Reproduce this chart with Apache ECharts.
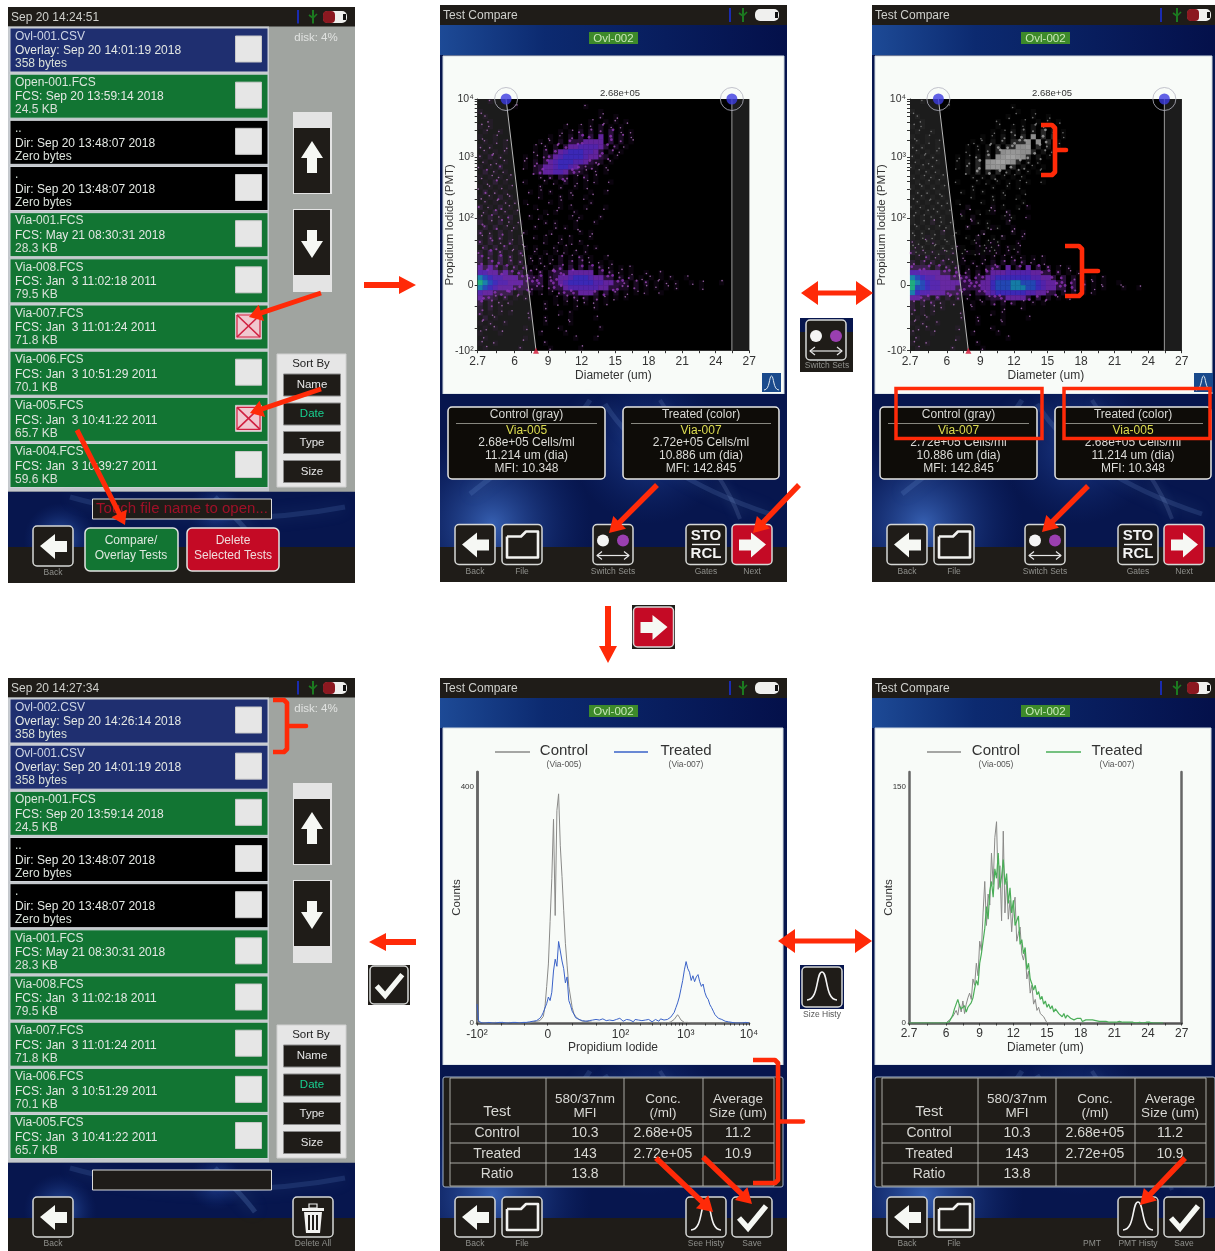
<!DOCTYPE html>
<html><head><meta charset="utf-8">
<style>html,body{margin:0;padding:0;background:#fff}#c{width:1215px;height:1251px;filter:blur(.45px)}</style>
<script src="https://cdn.jsdelivr.net/npm/echarts@6/dist/echarts.min.js"></script></head>
<body><div id="c"></div>
<script>
// ---------- DATA ----------
const sizeTickLabels=[2.7,6,9,12,15,18,21,24,27];
const sizeMinorTicks=[2.7,4.35,6,7.5,9,10.5,12,13.5,15,16.5,18,19.5,21,22.5,24,25.5,27];
const piTickPositions=[0,1.04,2.11,3.07,4];
const piTickLabels=['-10²','0','10²','10³','10⁴'];
const piMinorTicks=[0,.35,.7,1.04,1.4,1.75,2.11,2.4,2.57,2.69,2.78,2.86,2.92,2.98,3.02,3.07,3.35,3.51,3.63,3.72,3.79,3.85,3.91,3.96,4];
const leftGate=[[2.7,4],[5.24,4],[7.92,0],[2.7,0]];
const rightGate=[[25.45,4],[27,4],[27,0],[25.45,0]];
const gateHandles=[[5.24,4],[25.45,4]];
const gateMarker=[[7.92,0]];
// density per cell, top row first; 54 columns over 2.7-27, 50 rows over the PI scale
const overlayColor=[
"..1",".......1.............1","1.......................1",".1......................1..1",
"..1...................1..1.1.1","1.1..............1..1.1.2.1.1",".1..1...........1.1.2.2.2.3.1.1",
"1..1..........1.1.2.3.3.4.3.2.1",".1.1.1......1.1.2.3334444.3.2.1","1.1..1.....1.1.2.344555543.2.1",
".1.1.1.....1.2.3456665543.2.1","1.2.1....1.1.2345666654432.1",".1.1.1...1.2.345666554322.1",
"1.1.2....1.2344566543221.1",".2.1.1.....23445543321.1.1","1.1.1.1.....1.2.32.1.2.1",
".1.2.1...1...1.1.2.1.1.1..1","1.1.1.1.....1...1..1.1",".2.1.1....1.1.1...1...1..1",
"1.1.2.1.....1...1.1..1",".1.1.1.1.1....1.1.....1","2.1.2.1....1....1.1..1...1",
".1.2.1.1.....1.1...1","1.2.1.2...1.1.....1.1...1","2.1.2.1.1....1.1...1...1",
".2.2.1.1...1...1.1.1","2.1.2.1..1....1.....1.1","1.2.2.1.1..1.1..1.1...1",
"2.2.1.2.1....1..1.1.1",".2.2.2.1.1.1...1.1...1.1","2.3.2.1.2..1.1.1.1.1.1",
"3.2.3.2.1.1.1.1.2.1.2.1..1","3.3.3.2.2.1.1.1.2.2.2.1.1.1","4343.3.2.2.1.1.23.3.3.3.2.1.1.1",
"5544343.3.2.2.233344444.3.2.1.1..1..1","8765544433323.2344566654433.2.2.1.1.1.1..1",
"9876554443333.3345666665544332.2.2.1.1.1..1.1...1","8765444333222.2334555555443322.2.1.1.1.1....1",
"5443333.2.2.1.1.23334443.3.2.1.1.1..1","4332.2.1.1.....1.2.2.2.2.1.1.1","3.2.1.1......1.1.1.1.1.1.1",
"2.2.1........1.....1...1","2.1.1.1...1.....1.1",".2.1......1..1....1....1","1.1..1.......1....1",
".1.1.....1......1.......1","1...1.......1....1",".1.......1.........1...1","1..1.........1",".1......1.....1.....1"];
const swappedGray=[
"..1",".......1............1","1....................1..1",".1.................1....1..1",
"..1..............1....1..1.1.1","1.1..............1..1.1.2.1.1",".1..1...........1.1.2.2.2.3.2.1",
"1..1..........1.1.2.2.3.4.3.3.1",".1.1.1......1.1.2.2.3334.4.3.1","1.1..1.....1.1.2.3.33445.3.2.1",
".1.1.1.....1.1.2.34555443.2.1","1.1.1....1.1.2.3.4566543.2.1",".1.1.1...1.2.3.4566543.2.1",
"1.1.1....1.2.3.4554.3.2.1.1",".1.1.1.....2.3.3.3.2.2.1.1","1.1.1.1.....1.1.2.1.1.1",
".1.1.1...1...1.1.1.1.1.1..1","1.1.1.1.....1...1..1.1",".1.1.1....1.1.1...1...1",
"1.1.1.1.....1...1.1..1",".1.1.1.1.1....1.1.....1","1.1.1.1....1....1.1..1",
".1.1.1.1.....1.1...1","1.1.1.1...1.1.....1.1","1.1.1.1.1....1.1...1",".1.1.1.1...1...1.1",
"1.1.1.1..1....1.....1","1.1.1.1.1..1.1..1.1",".1.1.1.1....1..1.1","1.1.1.1.1.1...1.1...1",".1.1.1.1..1.1.1.1"];
const swappedColor=["","","","","","","","","","","","","","","","","","","","","","...........1....1......1","..........1.....1..1","............1......1...1","....1.......1......1","...........1....1...1","......1.......1.....1.1","...1.........1....1...1","1...1........1..1....1",".1.......1...1.1.1.1.1",
"2.1.1.1.1..1.1.1.1.1.1",".1.2.1.1..1...1.1.1.1.1.1.1","2.2.2.2.1.1.1.1.2.2.2.2.1.1","3333.3.2.2.1.1.233.4.3.4.3.2.1.1",
"55444433.3.2.2.3444555554433.2.1.1","876554443333.3345666666655443.3.2.1.1.1","9876554444333344677788777654433.3.2.1.1..1",
"9776554443333344677788877654433.3.2.1.1...1..1","865544433322.3345666666554433.2.2.1.1","4433.3.2.2.1.1.233344443.3.2.1.1",
"2.2.2.1.1...1.1.2.2.2.1.1.1","2.1.1.1.....1.....1...1","1.1.1.....1.....1.1",".1.1......1..1....1....1","1.1..1.......1....1",".1.1.....1......1",
"1...1.......1....1",".1.......1.........1","1..1.........1",".1......1.....1"];
const piBins=161;
const piControl=[5,0,0,1,0,0,1,0,0,0, 0,1,0,0,0,1,0,0,0,1, 0,0,1,0,0,0,1,0,1,0, 1,0,1,2,1,3,2,4,6,11,
28,62,100,172,245,345,182,360,388,300, 248,190,135,98,62,44,26,16,11,8, 6,4,3,2,3,1,2,1,1,0, 1,0,1,0,0,1,0,0,1,0,
0,1,0,0,0,1,0,0,0,0, 1,0,0,0,1,0,0,0,0,1, 0,0,1,0,0,0,0,1,0,0, 0,1,0,1,2,4,6,9,14,10, 5,2,1,0,1,0,0,0,0,0,
0,0,0,0,0,0,0,0,0,0, 0,0,0,0,0,0,0,0,0,0, 0,0,0,0,0,0,0,0,0,0, 0];
const piTreated=[32,3,1,0,1,0,0,1,0,0, 1,0,0,1,0,1,0,0,1,0, 0,1,0,1,0,0,1,1,0,1, 1,2,1,3,2,4,5,8,12,18,
16,33,44,38,52,88,108,96,138,122, 105,92,68,78,38,30,20,15,9,8, 6,7,4,5,3,6,4,7,5,3, 6,4,5,3,7,5,4,2,5,6,
4,3,6,4,8,5,3,4,6,3, 5,4,2,6,3,5,7,4,3,5, 4,6,3,2,5,6,4,3,7,4, 5,3,6,8,10,12,18,26,34,44,
58,72,90,104,92,86,72,80,70,78, 82,70,62,66,52,44,40,31,26,20, 14,12,8,6,6,4,3,2,2,1, 1,1,0,1,0,1,0,0,1,0, 0];
const sizeControl=[0,0,0,0,0,0,0,0,0,0, 0,0,0,0,0,0,0,0,0,0, 0,0,0,1,2,1,4,3,8,5,
12,7,14,6,12,16,19,15,28,24, 38,30,52,46,70,90,62,82,75,108, 88,118,128,85,100,65,122,70,90,66,
78,58,74,80,52,57,61,44,40,46, 28,33,19,24,12,15,8,10,6,7, 4,2,0,1,0,0,0,0,0,0,
0,0,0,0,0,0,0,0,0,0, 0,0,0,0,0,0,0,0,0,0, 0,0,0,0,0,0,0,0,0,0, 0,0,0,0,0,0,0,0,0,0, 0,0,0,0,0,0,0,0,0,0, 0,0];
const sizeTreated=[0,0,0,0,0,0,0,0,0,0, 0,0,0,0,0,0,0,0,0,0, 0,0,0,0,1,2,5,9,12,15,
11,9,8,11,7,10,10,13,16,22, 27,24,38,44,52,60,74,66,84,90, 80,98,92,108,86,93,104,88,95,76,
86,70,78,62,61,68,50,53,44,48, 34,38,28,25,21,24,18,20,15,17, 12,14,10,12,9,11,7,9,8,6,
7,4,6,3,5,4,3,4,2,3, 3,2,3,1,2,2,1.5,2,1,2, 1,1.5,1,1,1.5,1,.5,1,1,.5, 1,.5,1,.5,.5,1,.5,.5,1,.5, .5,.5,1,.5,.5,0,.5,.5,.5,0, .5,.5,0,.5,0,0,.5,0,0,0, 0,0];
const screen1Files=[
['Ovl-001.CSV','Overlay: Sep 20 14:01:19 2018','358 bytes','o',0],['Open-001.FCS','FCS: Sep 20 13:59:14 2018','24.5 KB','f',0],
['..','Dir: Sep 20 13:48:07 2018','Zero bytes','d',0],['.','Dir: Sep 20 13:48:07 2018','Zero bytes','d',0],
['Via-001.FCS','FCS: May 21 08:30:31 2018','28.3 KB','f',0],['Via-008.FCS','FCS: Jan  3 11:02:18 2011','79.5 KB','f',0],
['Via-007.FCS','FCS: Jan  3 11:01:24 2011','71.8 KB','f',1],['Via-006.FCS','FCS: Jan  3 10:51:29 2011','70.1 KB','f',0],
['Via-005.FCS','FCS: Jan  3 10:41:22 2011','65.7 KB','f',1],['Via-004.FCS','FCS: Jan  3 10:39:27 2011','59.6 KB','f',0]];
const screen4Files=[
['Ovl-002.CSV','Overlay: Sep 20 14:26:14 2018','358 bytes','o',0],['Ovl-001.CSV','Overlay: Sep 20 14:01:19 2018','358 bytes','o',0],
['Open-001.FCS','FCS: Sep 20 13:59:14 2018','24.5 KB','f',0],['..','Dir: Sep 20 13:48:07 2018','Zero bytes','d',0],
['.','Dir: Sep 20 13:48:07 2018','Zero bytes','d',0],['Via-001.FCS','FCS: May 21 08:30:31 2018','28.3 KB','f',0],
['Via-008.FCS','FCS: Jan  3 11:02:18 2011','79.5 KB','f',0],['Via-007.FCS','FCS: Jan  3 11:01:24 2011','71.8 KB','f',0],
['Via-006.FCS','FCS: Jan  3 10:51:29 2011','70.1 KB','f',0],['Via-005.FCS','FCS: Jan  3 10:41:22 2011','65.7 KB','f',0]];
const infoA=['Via-005','2.68e+05 Cells/ml','11.214 um (dia)','MFI: 10.348'];
const infoB=['Via-007','2.72e+05 Cells/ml','10.886 um (dia)','MFI: 142.845'];
const tableHeader=[['Test'],['580/37nm','MFI'],['Conc.','(/ml)'],['Average','Size (um)']];
const tableRows=[['Control','10.3','2.68e+05','11.2'],['Treated','143','2.72e+05','10.9'],['Ratio','13.8','','']];

// ---------- DRAW HELPERS ----------
const F='"Liberation Sans",sans-serif';
const E=[];
const rect=(x,y,w,h,fill,o={})=>E.push({type:'rect',z:o.z??-10,silent:true,shape:{x,y,width:w,height:h,r:o.r||0},style:{fill,stroke:o.stroke||null,lineWidth:o.lw||0}});
const txt=(s,x,y,size,fill,o={})=>E.push({type:'text',z:o.z??-5,silent:true,style:{text:s,x,y,fill,font:`${o.w||'normal'} ${size}px ${o.f||F}`,textAlign:o.a||'center',textVerticalAlign:'middle',align:o.a||'center',verticalAlign:'middle'}});
const poly=(pts,fill,o={})=>E.push({type:'polygon',z:o.z??-5,silent:true,shape:{points:pts},style:{fill,stroke:o.stroke||null,lineWidth:o.lw||0}});
const pl=(pts,stroke,lw,o={})=>E.push({type:'polyline',z:o.z??-5,silent:true,shape:{points:pts},style:{stroke,lineWidth:lw,fill:null,lineJoin:o.join||'round',lineCap:o.cap||'butt',opacity:o.op??1}});
const circ=(cx,cy,r,fill,o={})=>E.push({type:'circle',z:o.z??-5,silent:true,shape:{cx,cy,r},style:{fill,stroke:o.stroke||null,lineWidth:o.lw||0}});
const bez=(x1,y1,c1x,c1y,c2x,c2y,x2,y2,stroke,lw,op,z)=>E.push({type:'bezierCurve',z:z??-8,silent:true,shape:{x1,y1,x2,y2,cpx1:c1x,cpy1:c1y,cpx2:c2x,cpy2:c2y},style:{stroke,lineWidth:lw,fill:null,opacity:op,shadowBlur:lw*3,shadowColor:stroke}});
const RED='#ff2a08',DARK='#1f1c18',SC='#d9dad6';
function arrow(x1,y1,x2,y2,w,hl,hw){const d=Math.hypot(x2-x1,y2-y1),ux=(x2-x1)/d,uy=(y2-y1)/d,nx=-uy,ny=ux,bx=x2-ux*hl,by=y2-uy*hl;
 poly([[x1+nx*w/2,y1+ny*w/2],[bx+nx*w/2,by+ny*w/2],[bx+nx*hw/2,by+ny*hw/2],[x2,y2],[bx-nx*hw/2,by-ny*hw/2],[bx-nx*w/2,by-ny*w/2],[x1-nx*w/2,y1-ny*w/2]],RED,{z:100});}
function dbl(x1,x2,y,w,hl,hw){poly([[x1,y],[x1+hl,y-hw/2],[x1+hl,y-w/2],[x2-hl,y-w/2],[x2-hl,y-hw/2],[x2,y],[x2-hl,y+hw/2],[x2-hl,y+w/2],[x1+hl,y+w/2],[x1+hl,y+hw/2]],RED,{z:100});}
const brace=(x0,y0,y1,xs,xn)=>{const m=(y0+y1)/2;pl([[x0,y0],[xs-3,y0],[xs,y0+3],[xs,m],[xn,m],[xs,m],[xs,y1-3],[xs-3,y1],[x0,y1]],RED,4.6,{z:100});};
function blue(x,y,w,h){rect(x,y,w,h,'#07164e');
 rect(x,y,w,h,{type:'radial',x:.15,y:.85,r:.65,colorStops:[{offset:0,color:'rgba(70,120,210,.75)'},{offset:1,color:'rgba(20,50,130,0)'}]});
 rect(x,y,w,h,{type:'radial',x:.6,y:.35,r:.5,colorStops:[{offset:0,color:'rgba(45,85,180,.6)'},{offset:1,color:'rgba(20,50,130,0)'}]});}
function btn(x,y,w=40,h=40,fill=DARK){rect(x,y,w,h,fill,{r:4,stroke:'#d6d8d6',lw:1.5,z:-4});}
const zz={z:-3};
function backI(x,y){btn(x,y);poly([[x+7,y+20],[x+22,y+8],[x+22,y+15],[x+34,y+15],[x+34,y+26],[x+22,y+26],[x+22,y+33]],'#f6f8f4',zz);}
function nextI(x,y){btn(x,y,40,40,'#c40a25');poly([[x+34,y+20],[x+19,y+8],[x+19,y+15],[x+7,y+15],[x+7,y+26],[x+19,y+26],[x+19,y+33]],'#f6f8f4',zz);}
function fileI(x,y){btn(x,y);pl([[x+5,y+12],[x+19,y+12],[x+24,y+7],[x+36,y+7],[x+36,y+33],[x+5,y+33],[x+5,y+12]],'#f2f2f0',2.6,zz);}
function switchI(x,y){btn(x,y);circ(x+10,y+16,6,'#f4f4f4',zz);circ(x+30,y+16,6,'#9a3fb0',zz);pl([[x+4,y+31],[x+36,y+31]],'#e8e8e8',1.2,zz);pl([[x+9,y+27],[x+4,y+31],[x+9,y+35]],'#e8e8e8',1.2,zz);pl([[x+31,y+27],[x+36,y+31],[x+31,y+35]],'#e8e8e8',1.2,zz);}
function stoI(x,y){btn(x,y);txt('STO',x+20,y+11,15,'#f4f4f4',{w:'bold',z:-3});pl([[x+6,y+20],[x+34,y+20]],'#f4f4f4',1.4,zz);txt('RCL',x+20,y+29,15,'#f4f4f4',{w:'bold',z:-3});}
function histI(x,y){btn(x,y);E.push({type:'bezierCurve',z:-3,silent:true,shape:{x1:x+5,y1:y+33,cpx1:x+17,cpy1:y+33,cpx2:x+14,cpy2:y+5,x2:x+20,y2:y+5},style:{stroke:'#f4f4f4',lineWidth:1.6,fill:null}});E.push({type:'bezierCurve',z:-3,silent:true,shape:{x1:x+35,y1:y+33,cpx1:x+23,cpy1:y+33,cpx2:x+26,cpy2:y+5,x2:x+20,y2:y+5},style:{stroke:'#f4f4f4',lineWidth:1.6,fill:null}});}
function checkI(x,y,w=40){btn(x,y,w,w);const k=w/40;pl([[x+7*k,y+21*k],[x+16*k,y+31*k],[x+34*k,y+9*k]],'#f6f8f4',5.5*k,{z:-3,join:'miter'});}
function trashI(x,y){btn(x,y);rect(x+9,y+11,22,3,'#f2f2f0',{z:-3});rect(x+16,y+7,8,4,null,{z:-3,stroke:'#f2f2f0',lw:1.2});poly([[x+11,y+15],[x+29,y+15],[x+27,y+36],[x+13,y+36]],'#f2f2f0',zz);[16,20,24].forEach(d=>rect(x+d-1,y+18,2,15,DARK,{z:-3}));}
const cap=(s,x,y,c='#8f908c')=>txt(s,x,y,8.5,c);
function status(x,y,w,title,h,o){rect(x,y,w,h,DARK);txt(title,x+3,y+h/2+.5,12,'#cfd0cc',{a:'left'});
 pl([[o[0],y+3],[o[0],y+h-3]],'#1a2bb0',2);pl([[o[1],y+3],[o[1],y+h-3]],'#1c7a20',2);pl([[o[1]-4,y+8],[o[1],y+11],[o[1]+4,y+7]],'#1c7a20',1.6);
 rect(o[2],y+4,24,12,'#f0f0ee',{r:5});if(o[3])rect(o[2],y+4,12,12,'#8c1820',{r:4});rect(o[2]+20,y+7,3,6,'#111');}
function fileScreen(y0,title,files,msg,deleteAll){const X=8,W=347;
 rect(X,y0,W,576,'#a0a4a0');status(X,y0,W,title,19.5,[298,313,323,1]);
 rect(X,y0+19.5,261,465,'#c4c8cc');
 files.forEach((f,i)=>{const y=y0+21+i*46.17,c={o:'#1f2f70',f:'#127533',d:'#000'}[f[3]];
  rect(10,y,258,44,c,{stroke:'#cfd3d8',lw:1});
  txt(f[0],15,y+8.5,12,f[3]=='o'?'#cdd4e4':'#dbe6dc',{a:'left'});txt(f[1],15,y+23,12,'#e4e8e4',{a:'left'});txt(f[2],15,y+36,12,'#d8e0d8',{a:'left'});
  rect(235.5,y+8,26,26,f[4]?'#f0c8d0':'#e6e6e6',{stroke:'#c8c8c8',lw:1,z:-4});
  if(f[4]){pl([[237,y+10],[260,y+32]],'#d02040',1.6,zz);pl([[260,y+10],[237,y+32]],'#d02040',1.6,zz);pl([[237,y+10],[260,y+10],[260,y+32],[237,y+32],[237,y+10]],'#d02040',1.2,zz);}
 });
 txt('disk: 4%',316,y0+31,11.5,'#e0e2e0');
 rect(293,y0+105,39,82,'#e4e4e4');rect(294,y0+121,36,65,DARK,{z:-4});
 poly([[312,y0+134],[323,y0+151],[317,y0+151],[317,y0+166],[307,y0+166],[307,y0+151],[301,y0+151]],'#f6f8f4',zz);
 rect(293,y0+202,39,83,'#e4e4e4');rect(294,y0+203,36,65,DARK,{z:-4});
 poly([[312,y0+251],[323,y0+234],[317,y0+234],[317,y0+223],[307,y0+223],[307,y0+234],[301,y0+234]],'#f6f8f4',zz);
 rect(277,y0+347,69,133,'#e6e6e6',{stroke:'#d0d0d0',lw:1});txt('Sort By',311,y0+357,11.5,'#222');
 ['Name','Date','Type','Size'].forEach((s,i)=>{const y=y0+367+[0,29,57.5,86.5][i];rect(283.5,y,57,22,DARK,{z:-4,stroke:'#8a8a8a',lw:1});txt(s,312,y+11,11.5,i==1?'#18d090':'#e6e6e6',{z:-3});});
 blue(X,y0+484.7,W,56);rect(X,y0+540,W,36,DARK);
 bez(70,y0+490,140,y0+510,240,y0+520,345,y0+500,'#6f9ae0',5,.16);bez(215,y0+490,225,y0+500,245,y0+520,255,y0+534,'#7fa8e8',5,.2);
 rect(92.5,y0+492,179,20,DARK,{stroke:'#dcdcdc',lw:1,z:-4});
 if(msg)txt(msg,182,y0+502,15,'#a01028',{z:-3});
 backI(33,y0+519);cap('Back',53,y0+566);
 if(deleteAll){trashI(293,y0+519);cap('Delete All',313,y0+566);}
 else{rect(85,y0+521,93,43,'#127533',{r:5,stroke:'#e2e4e2',lw:1.5,z:-4});txt('Compare/',131,y0+534,12,'#dfe8df',{z:-3});txt('Overlay Tests',131,y0+549,12,'#dfe8df',{z:-3});
  rect(187,y0+521,92,43,'#c40a25',{r:5,stroke:'#e2e4e2',lw:1.5,z:-4});txt('Delete',233,y0+534,12,'#f0dcdc',{z:-3});txt('Selected Tests',233,y0+549,12,'#f0dcdc',{z:-3});}
}
function compareFrame(x0,y0,W,h){rect(x0,y0,W,h,'#07164e');
 status(x0,y0,W,'Test Compare',20,x0==440?[730,743,755,0]:[1161,1177,1187,1]);
 rect(x0,y0+20,W,30,{type:'linear',x:0,y:0,x2:1,y2:0,colorStops:[{offset:0,color:'#1d4a96'},{offset:.3,color:'#0c2a70'},{offset:1,color:'#04104a'}]});
 rect(x0+149,y0+27,49,12,'#3d8a2a');txt('Ovl-002',x0+173.5,y0+33.5,11.5,'#c9e8b8');}
function lowerBlue(x0,y,W,h){blue(x0,y,W,h);rect(x0,y+h,W,582-547,DARK);
 bez(x0+30,y+100,x0+90,y+50,x0+130,y+40,x0+150,y+6,'#7fa8e8',5,.16);bez(x0+165,y+10,x0+190,y+50,x0+240,y+90,x0+330,y+120,'#7fa8e8',5,.16);
 bez(x0+220,y+6,x0+240,y+40,x0+280,y+70,x0+300,y+125,'#a0c0f0',4,.14);}
function infoBox(x,w,title,a){rect(x,407,w,72,'#0e0c08',{r:4,stroke:'#e8e8e4',lw:1.5,z:-4});txt(title,x+w/2,415,12,'#d8d8d4',{z:-3});pl([[x+8,423.5],[x+w-8,423.5]],'#a8a8a0',.8,zz);
 txt(a[0],x+w/2,430.5,12,'#dcdc50',{z:-3});[443,456,469].forEach((y,i)=>txt(a[i+1],x+w/2,y,12,'#dcdcd8',{z:-3}));}
function scatterScreen(x0,A,B,W){compareFrame(x0,5,W,577);rect(x0+3,56,W-6,338,'#f8fbf8',{stroke:'#cfd8e0',lw:1});lowerBlue(x0,394,W,153);
 infoBox(x0+8,157,'Control (gray)',A);infoBox(x0+183,156,'Treated (color)',B);
 backI(x0+15,524.5);fileI(x0+62,524.5);switchI(x0+153,524.5);stoI(x0+246,524.5);nextI(x0+292,524.5);
 [['Back',35],['File',82],['Switch Sets',173],['Gates',266],['Next',312]].forEach(a=>cap(a[0],x0+a[1],572));
 txt('2.68e+05',x0+180,93.5,9.5,'#333');
 rect(x0+322,373,19,19,'#1a4a8c');
 E.push({type:'bezierCurve',z:-4,silent:true,shape:{x1:x0+324,y1:390,cpx1:x0+330,cpy1:390,cpx2:x0+329,cpy2:376,x2:x0+331.5,y2:376},style:{stroke:'#dfe8f0',lineWidth:1,fill:null}});
 E.push({type:'bezierCurve',z:-4,silent:true,shape:{x1:x0+339,y1:390,cpx1:x0+333,cpy1:390,cpx2:x0+334,cpy2:376,x2:x0+331.5,y2:376},style:{stroke:'#dfe8f0',lineWidth:1,fill:null}});}
function histScreen(x0,W,buttons,color,cx,lines){compareFrame(x0,678,W,573);
 rect(x0+3,728,W-7,337,'#f8fbf8',{stroke:'#cfd8e0',lw:1});lowerBlue(x0,1065,W,153);rect(x0,1218,W,33,DARK);
 const dx=x0-440;rect(x0+3,1077,340,110,DARK,{r:2,stroke:'#9fb0c8',lw:1,z:-4});
 const xs=[450,546,624,703,774],ys=[1078,1124,1143,1163,1186];
 xs.forEach(x=>pl([[x+dx,1078],[x+dx,1186]],'#b9bab4',.9,zz));ys.forEach(y=>pl([[450+dx,y],[774+dx,y]],'#b9bab4',.9,zz));
 const cc=[497,585,663,738].map(v=>v+dx);
 tableHeader.forEach((h,i)=>{if(h.length==1)txt(h[0],cc[i],1112,15,'#d8d8d4',{z:-3});else{txt(h[0],cc[i],1099,13.5,'#d8d8d4',{z:-3});txt(h[1],cc[i],1113,13.5,'#d8d8d4',{z:-3});}});
 tableRows.forEach((r,j)=>r.forEach((s,i)=>{if(s)txt(s,cc[i],[1133.5,1154,1174][j],14,'#d8d8d4',{z:-3});}));
 backI(x0+15,1197);fileI(x0+62,1197);histI(x0+246,1197);checkI(x0+292,1197);
 cap('Back',x0+35,1244);cap('File',x0+82,1244);cap(buttons,x0+266,1244);cap('Save',x0+312,1244);
 pl([[lines[0],752],[lines[1],752]],'#8a8a88',1.4);pl([[lines[2],752],[lines[3],752]],color,1.6);
 txt('Control',cx[0],751,15,'#333');txt('(Via-005)',cx[0],765,8.5,'#555');txt('Treated',cx[1],751,15,'#333');txt('(Via-007)',cx[1],765,8.5,'#555');
}
// ---------- COMPOSE ----------
fileScreen(7,'Sep 20 14:24:51',screen1Files,'Touch file name to open...',false);
fileScreen(678,'Sep 20 14:27:34',screen4Files,'',true);
scatterScreen(440,infoA,infoB,347);
scatterScreen(872,infoB,infoA,343);
histScreen(440,347,'See Histy','#3a62c8',[564,686],[495,530,614,648]);
histScreen(872,343,'PMT Histy','#4aae58',[996,1117],[927,961,1046,1081]);
cap('PMT',1092,1244);
rect(800,318,53,54,DARK);rect(800,318,53,14,'#07164e');switchI(806,320);cap('Switch Sets',827,366);
rect(632,605,43,44,DARK);nextI(633.5,607);
rect(368,965,42,40,DARK);checkI(370,966,38);
rect(800,965,44,44,'#07164e');histI(802,967);cap('Size Histy',822,1015,'#555');
arrow(321,293,249,317,5,13,17);arrow(321,389,250,413,5,13,17);arrow(77,430,125,525,5,13,17);
arrow(364,285,416,285,6,17,18);dbl(801,873,293,5,17,24);
arrow(657,485,609,533,5.5,15,18);arrow(799,485,753,533,5.5,15,18);arrow(1088,486,1042,532,5.5,15,18);
poly([[605,606],[611,606],[611,646],[617,646],[608,663],[599,646],[605,646]],RED,{z:100});
arrow(416,942,369,942,6,17,18);dbl(778,872,941,5,17,24);
arrow(656,1158,713,1212,5.5,15,18);arrow(703,1157,752,1204,5.5,15,18);arrow(1185,1158,1140,1205,5.5,15,18);
rect(896,388.5,146,50,null,{z:100,stroke:RED,lw:3.5});rect(1064,388.5,146,50,null,{z:100,stroke:RED,lw:3.5});
brace(1041,125,175,1055,1066);brace(1065,246,296,1082,1098);brace(753,1060,1183,778,803);brace(273,700,752,287,306);

// ---------- CHART ----------
const PAL=[null,'#b678c6','#a04cbc','#8f35b8','#7a2cc4','#672cd4','#4a32e4','#2a58e0','#1a9ad0','#22d298'];
const GRY=[null,'#8a8a8a','#969696','#a4a4a4','#b0b0b0','#bcbcbc','#c8c8c8'];
const HAZE_C=['','rgba(130,50,165,.10)','rgba(130,50,170,.24)','rgba(125,45,175,.42)'];
const HAZE_G=['','rgba(150,150,150,.07)','rgba(150,150,150,.16)','rgba(160,160,160,.30)'];
const SIZE=[0,1.6,2.1,2.8,5.2,5.2,5.2,5.2,5.2,5.2];
// where a speck sits inside its density cell (fraction of the cell)
const speck=[-.4,.3,.1,-.2,.45,-.35,.2,-.1,.38,-.45,.05,.28,-.3,.42,-.15,.33,-.05];
const cells=rows=>{const out=[];rows.forEach((r,j)=>{for(let i=0;i<r.length;i++){const v=+r[i];if(v)out.push([2.7+(i+.5)*.45,4-(j+.5)*.08,v,i,j]);}});return out;};
const dens=(rows,pal,haze,g)=>[
 {type:'scatter',xAxisIndex:g,yAxisIndex:g,z:3,silent:true,data:cells(rows).filter(c=>c[2]<4).map(c=>c.slice(0,3)),symbol:'rect',symbolSize:5.2,itemStyle:{color:p=>haze[p.value[2]]}},
 {type:'scatter',xAxisIndex:g,yAxisIndex:g,z:3,silent:true,data:cells(rows).map(c=>c[2]<4?[c[0]+speck[(c[3]*7+c[4]*3)%17]*.45,c[1]+speck[(c[3]*3+c[4]*11)%17]*.08,c[2]]:c.slice(0,3)),symbol:v=>v[2]>=4?'rect':'circle',symbolSize:v=>SIZE[v[2]],itemStyle:{color:p=>pal[p.value[2]]}}];
const gates=g=>[{type:'custom',xAxisIndex:g,yAxisIndex:g,z:2,silent:true,data:[[2.7,0],[25.45,0]],renderItem:(p,api)=>({type:'polygon',shape:{points:[leftGate,rightGate][p.dataIndex].map(c=>api.coord(c))},style:{fill:'#1c1c1c'}})},
 {type:'line',xAxisIndex:g,yAxisIndex:g,z:4,silent:true,symbol:'none',data:[leftGate[1],leftGate[2]],lineStyle:{color:'#b8b8b8',width:1}},
 {type:'line',xAxisIndex:g,yAxisIndex:g,z:4,silent:true,symbol:'none',data:[rightGate[0],rightGate[3]],lineStyle:{color:'#9a9a9a',width:1}},
 {type:'scatter',xAxisIndex:g,yAxisIndex:g,z:5,silent:true,clip:false,data:gateHandles,symbolSize:23,itemStyle:{color:'rgba(255,255,255,0)',borderColor:'#b4b4c0',borderWidth:1}},
 {type:'scatter',xAxisIndex:g,yAxisIndex:g,z:6,silent:true,clip:false,data:gateHandles,symbolSize:11,itemStyle:{color:'#3c3ce0'}},
 {type:'scatter',xAxisIndex:g,yAxisIndex:g,z:6,silent:true,clip:false,data:gateMarker,symbol:'triangle',symbolSize:6,itemStyle:{color:'#d01030'}}];
const hist=(name,x,vals,g,color,w)=>({type:'line',name,xAxisIndex:g,yAxisIndex:g,z:3,symbol:'none',silent:true,data:vals.map((v,i)=>[x(i),v]),lineStyle:{color,width:w}});
const piX=i=>i*4/(piBins-1),szX=i=>2.7+i*.15;
const lab={color:'#333',fontFamily:F,fontSize:12};
const xSize=(g,nameGap)=>({type:'value',gridIndex:g,min:2.7,max:27,name:'Diameter (um)',nameLocation:'middle',nameGap,nameTextStyle:{...lab,fontSize:12},splitLine:{show:false},
 axisLine:{show:true,onZero:false,lineStyle:{color:g<2?'#333':'#555',width:g<2?1:2.5}},axisTick:{show:true,length:2.5,customValues:sizeMinorTicks,lineStyle:{color:'#333'}},axisLabel:{...lab,margin:5,customValues:sizeTickLabels,hideOverlap:false,formatter:v=>''+v}});
const piFmt=v=>piTickLabels[piTickPositions.indexOf(v)];
const xPI=g=>({type:'value',gridIndex:g,min:0,max:4,name:'Propidium Iodide',nameLocation:'middle',nameGap:19,nameTextStyle:{...lab,fontSize:12},splitLine:{show:false},
 axisLine:{show:true,onZero:false,lineStyle:{color:'#555',width:2.5}},axisTick:{show:true,length:2.5,customValues:piMinorTicks,lineStyle:{color:'#333'}},axisLabel:{...lab,margin:6,customValues:piTickPositions,formatter:piFmt}});
const yPI=g=>({type:'value',gridIndex:g,min:0,max:4,name:'Propidium Iodide (PMT)',nameLocation:'middle',nameGap:22,nameMoveOverlap:false,nameTextStyle:{...lab,fontSize:11.5},splitLine:{show:false},
 axisLine:{show:true,onZero:false,lineStyle:{color:'#333'}},axisTick:{show:true,length:3,customValues:piMinorTicks,lineStyle:{color:'#333'}},axisLabel:{...lab,fontSize:10.5,margin:4,customValues:piTickPositions,formatter:piFmt}});
const yCount=(g,max,top)=>({type:'value',gridIndex:g,min:0,max,name:'Counts',nameLocation:'middle',nameGap:14,nameMoveOverlap:false,nameTextStyle:{...lab,fontSize:11.5},splitLine:{show:false},
 axisLine:{show:true,onZero:false,lineStyle:{color:'#666',width:2.5}},axisTick:{show:false},axisLabel:{...lab,fontSize:8,margin:3,customValues:[0,top],formatter:v=>''+v}});
const yRight=(g,max)=>({type:'value',gridIndex:g,min:0,max,position:'right',splitLine:{show:false},axisLine:{show:true,lineStyle:{color:'#666',width:2.5}},axisTick:{show:false},axisLabel:{show:false}});
const chart=echarts.init(document.getElementById('c'),null,{renderer:'canvas',width:1215,height:1251});
chart.setOption({animation:false,backgroundColor:'#fff',
 graphic:{elements:E},
 grid:[{left:477.7,top:99,width:271.5,height:251.7,show:true,backgroundColor:'#000',borderWidth:0},
  {left:910,top:99,width:271.7,height:251.7,show:true,backgroundColor:'#000',borderWidth:0},
  {left:477,top:772,width:272,height:251},{left:909,top:772,width:272.7,height:251}],
 xAxis:[xSize(0,19),xSize(1,19),xPI(2),xSize(3,19)],
 yAxis:[yPI(0),yPI(1),yCount(2,425,400),yCount(3,159.6,150),yRight(2,425),yRight(3,159.6)],
 series:[...gates(0),...dens(overlayColor,PAL,HAZE_C,0),...gates(1),...dens(swappedGray,GRY,HAZE_G,1),...dens(swappedColor,PAL,HAZE_C,1),
  hist('Control',piX,piControl,2,'#8a8a88',1),hist('Treated',piX,piTreated,2,'#3a62c8',1),
  hist('Control',szX,sizeControl,3,'#8a8a88',1),hist('Treated',szX,sizeTreated,3,'#4aae58',1.2)]});
</script></body></html>
